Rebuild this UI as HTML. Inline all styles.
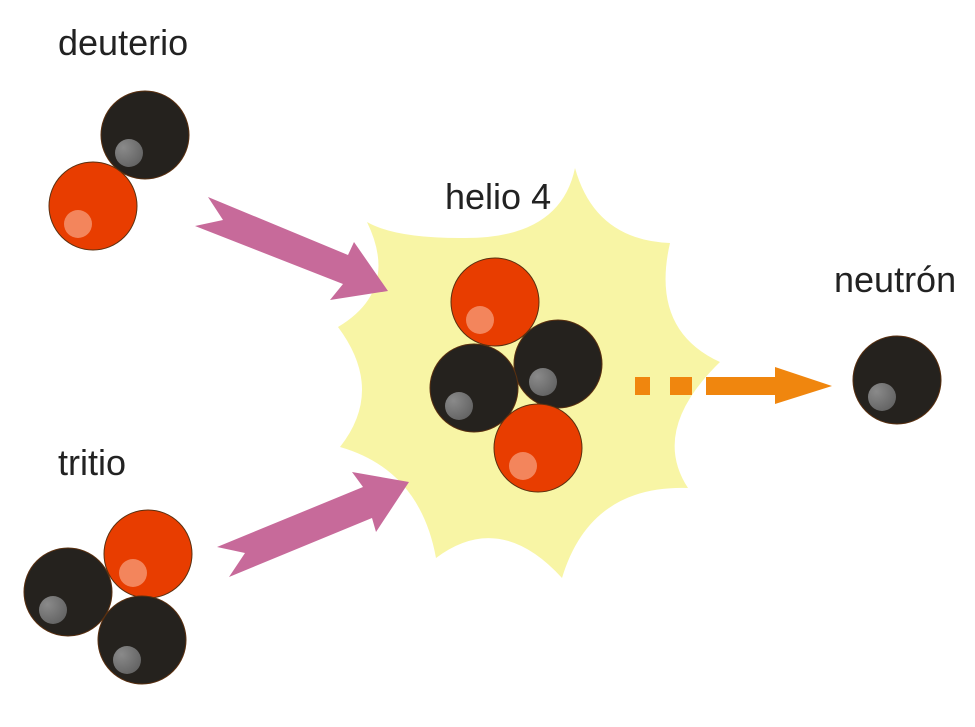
<!DOCTYPE html>
<html><head><meta charset="utf-8"><style>
html,body{margin:0;padding:0;background:#fff}
svg{display:block}
text{font-family:"Liberation Sans",Arial,sans-serif;font-size:36px;fill:#222}
</style></head><body>
<svg width="975" height="727" viewBox="0 0 975 727" xmlns="http://www.w3.org/2000/svg">
<defs>
<radialGradient id="hg" cx="0.3" cy="0.3" r="0.8"><stop offset="0" stop-color="#8a8a8a"/><stop offset="1" stop-color="#626262"/></radialGradient>
</defs>
<path fill="#f8f5a5" d="M575,168 Q560,240 460,238 Q395,238 367,222 Q400,290 338,327 Q385,390 340,447 Q420,470 436,558 Q500,510 562,578 Q590,485 688,488 Q650,430 720,362 Q650,330 670,243 Q595,240 575,168 Z"/>
<polygon fill="#c76a9a" points="208,197 348,255 354,242 388,291 330,300 343,284 195,226 223,220"/>
<polygon fill="#c76a9a" points="217,547 363,487 352,472 409,482 376,532 372,518 229,577 245,553"/>
<g fill="#f0860e">
<rect x="635" y="377" width="15" height="18"/>
<rect x="670" y="377" width="22" height="18"/>
<rect x="706" y="377" width="70" height="18"/>
<polygon points="775,367 832,386 775,404"/>
</g>
<g stroke="#5a3010" stroke-width="1">
<circle cx="145" cy="135" r="44" fill="#25221e"/>
<circle cx="93" cy="206" r="44" fill="#e83d00"/>
<circle cx="495" cy="302" r="44" fill="#e83d00"/>
<circle cx="558" cy="364" r="44" fill="#25221e"/>
<circle cx="474" cy="388" r="44" fill="#25221e"/>
<circle cx="538" cy="448" r="44" fill="#e83d00"/>
<circle cx="148" cy="554" r="44" fill="#e83d00"/>
<circle cx="68" cy="592" r="44" fill="#25221e"/>
<circle cx="142" cy="640" r="44" fill="#25221e"/>
<circle cx="897" cy="380" r="44" fill="#25221e"/>
</g>
<g>
<circle cx="129" cy="153" r="14" fill="url(#hg)"/>
<circle cx="78" cy="224" r="14" fill="#f3855c"/>
<circle cx="480" cy="320" r="14" fill="#f3855c"/>
<circle cx="543" cy="382" r="14" fill="url(#hg)"/>
<circle cx="459" cy="406" r="14" fill="url(#hg)"/>
<circle cx="523" cy="466" r="14" fill="#f3855c"/>
<circle cx="133" cy="573" r="14" fill="#f3855c"/>
<circle cx="53" cy="610" r="14" fill="url(#hg)"/>
<circle cx="127" cy="660" r="14" fill="url(#hg)"/>
<circle cx="882" cy="397" r="14" fill="url(#hg)"/>
</g>
<text x="58" y="55">deuterio</text>
<text x="445" y="209">helio 4</text>
<text x="834" y="292">neutrón</text>
<text x="58" y="475">tritio</text>
</svg>
</body></html>
